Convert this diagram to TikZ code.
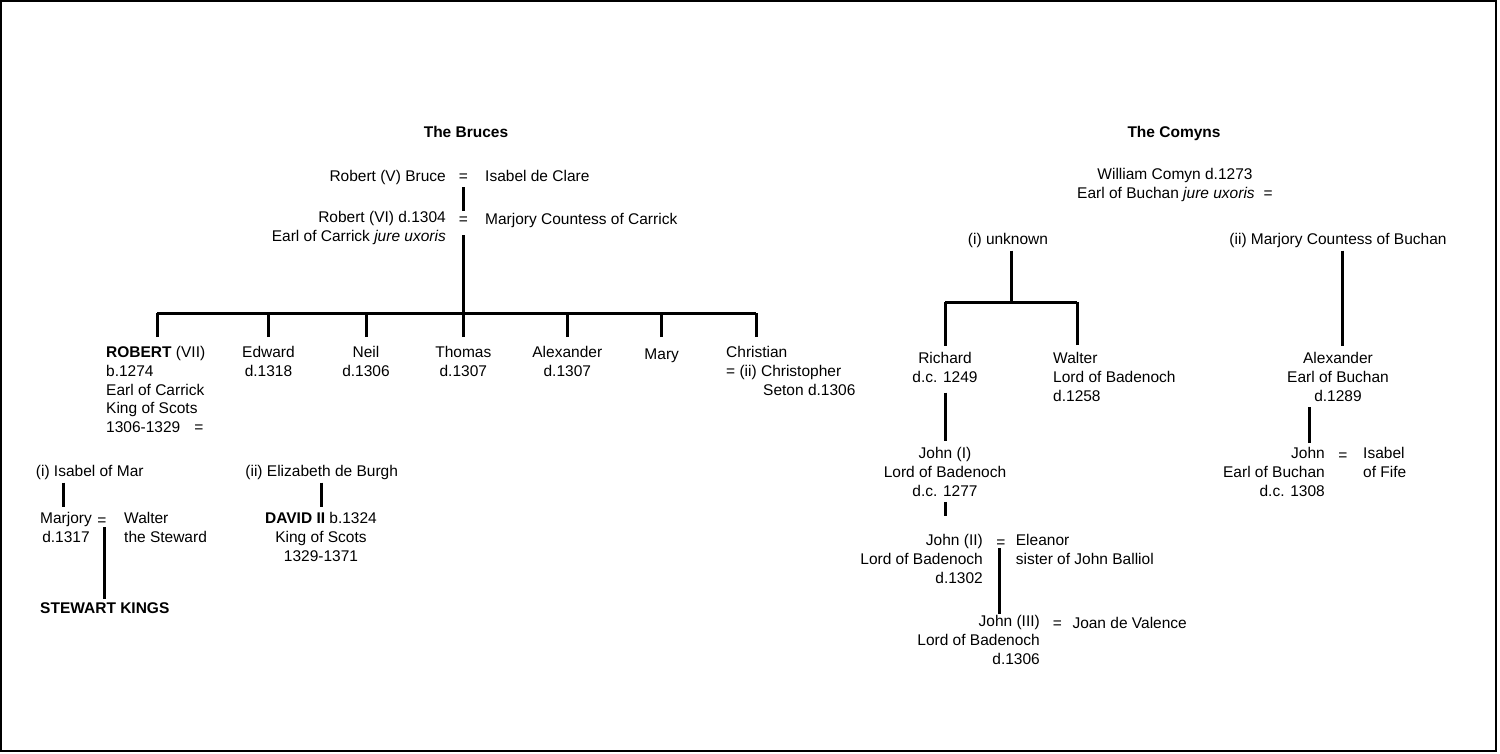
\documentclass[tikz,border=0pt]{standalone}
\usepackage{fontspec}
\setmainfont{Liberation Sans}
\tikzset{
  person/.style={font=\fontsize{15.5}{18.8}\selectfont, inner sep=0pt, execute at begin node=\strut},
  tree/.style={line width=3pt},
}
\begin{document}
\begin{tikzpicture}[x=1pt, y=-1pt]
    \useasboundingbox (0,0) rectangle (1500,753);
    % Rahmen
    \draw[line width=2pt] (1,1) rectangle (1496,751);

    % The Bruces
    \node[person, anchor=north] (bruces) at (466,124.5) {\textbf{The Bruces}};
    \node[person, anchor=north east] (rV) at (446,168) {Robert (V) Bruce};
    \node[person, anchor=north] (eqV) at (463.3,168) {=};
    \node[person, anchor=north west] (isabelC) at (485,168) {Isabel de Clare};
    \node[person, anchor=north east, align=right] (rVI) at (446,211) {Robert (VI) d.1304\\Earl of Carrick \textit{jure uxoris}};
    \node[person, anchor=north] (eqVI) at (463.3,211) {=};
    \node[person, anchor=north west] (marjoryC) at (485,211) {Marjory Countess of Carrick};

    % Kinder
    \node[person, anchor=north west, align=left] (robert) at (106,346) {\textbf{ROBERT} (VII)\\b.1274\\Earl of Carrick\\King of Scots\\1306-1329\hspace{14pt}=};
    \node[person, anchor=north, align=center] (edward) at (268.5,346) {Edward\\d.1318};
    \node[person, anchor=north, align=center] (neil) at (366,346) {Neil\\d.1306};
    \node[person, anchor=north, align=center] (thomas) at (463.3,346) {Thomas\\d.1307};
    \node[person, anchor=north, align=center] (alexB) at (567.3,346) {Alexander\\d.1307};
    \node[person, anchor=north] (mary) at (661.7,346) {Mary};
    \node[person, anchor=north west, align=left] (christian) at (726,346) {Christian\\= (ii) Christopher\\\hspace*{37pt}Seton d.1306};

    \draw[tree] (eqV.south) -- (eqVI.north);
    \coordinate (bar) at (463.3,313);
    \coordinate (robDrop) at (157,337);
    \coordinate (chrDrop) at (756,337);
    \draw[tree] ([yshift=-5pt]eqVI.south) -- (bar);
    \draw[tree] (robDrop |- bar) -- (chrDrop |- bar);
    \draw[tree] (robDrop) -- (robDrop |- bar);
    \draw[tree] (chrDrop) -- (chrDrop |- bar);
    \foreach \c in {edward,neil,thomas,alexB,mary}
        \draw[tree] ([yshift=9pt]\c.north) -- (\c.north |- bar);

    % Ehen von Robert (VII)
    \node[person, anchor=north west] (isabelM) at (35.7,463.5) {(i) Isabel of Mar};
    \node[person, anchor=north, align=center] (marjory) at (66,512) {Marjory\\d.1317};
    \node[person, anchor=north] (eqM) at (102,512) {=};
    \node[person, anchor=north west, align=left] (walter) at (124,512) {Walter\\the Steward};
    \node[person, anchor=north west] (stewart) at (40,600.5) {\textbf{STEWART KINGS}};
    \node[person, anchor=north] (elizabeth) at (321.7,463.5) {(ii) Elizabeth de Burgh};
    \node[person, anchor=north, align=center] (david) at (321,512) {\textbf{DAVID II} b.1324\\King of Scots\\1329-1371};

    \draw[tree] ([xshift=-3pt]marjory.north |- isabelM.south) -- ([xshift=-3pt,yshift=5pt]marjory.north);
    \coordinate (mw) at (104.3,527);
    \draw[tree] (mw) -- ([yshift=2pt]mw |- stewart.north);
    \draw[tree] (david.north |- elizabeth.south) -- ([yshift=5pt]david.north);

    % The Comyns
    \node[person, anchor=north] (comyns) at (1174,124.5) {\textbf{The Comyns}};
    \node[person, anchor=north, align=center] (william) at (1175,168.5) {William Comyn d.1273\\Earl of Buchan \textit{jure uxoris}\hspace{9pt}=};
    \node[person, anchor=north] (unknown) at (1008,231.5) {(i) unknown};
    \node[person, anchor=north] (marjoryB) at (1338,231.5) {(ii) Marjory Countess of Buchan};
    \node[person, anchor=north, align=center] (richard) at (945,352.5) {Richard\\d.c. 1249};
    \node[person, anchor=north west, align=left] (walterB) at (1053,352.5) {Walter\\Lord of Badenoch\\d.1258};
    \node[person, anchor=north, align=center] (alexC) at (1338,352.5) {Alexander\\Earl of Buchan\\d.1289};
    \node[person, anchor=north, align=center] (johnI) at (945,447) {John (I)\\Lord of Badenoch\\d.c. 1277};
    \node[person, anchor=north east, align=right] (johnB) at (1325,447) {John\\Earl of Buchan\\d.c. 1308};
    \node[person, anchor=north] (eqJB) at (1343,447) {=};
    \node[person, anchor=north west, align=left] (isabelF) at (1363,447) {Isabel\\of Fife};
    \node[person, anchor=north east, align=right] (johnII) at (983,534) {John (II)\\Lord of Badenoch\\d.1302};
    \node[person, anchor=north] (eqII) at (1001,534) {=};
    \node[person, anchor=north west, align=left] (eleanor) at (1015.7,534) {Eleanor\\sister of John Balliol};
    \node[person, anchor=north east, align=right] (johnIII) at (1040,615.5) {John (III)\\Lord of Badenoch\\d.1306};
    \node[person, anchor=north] (eqIII) at (1057.3,615.5) {=};
    \node[person, anchor=north west] (joan) at (1072.3,615.5) {Joan de Valence};

    \coordinate (ubar) at (1011,302);
    \coordinate (wDrop) at (1077,345);
    \draw[tree] (ubar |- unknown.south) -- (ubar);
    \draw[tree] (richard.north |- ubar) -- (wDrop |- ubar);
    \draw[tree] ([yshift=7pt]richard.north) -- (richard.north |- ubar);
    \draw[tree] (wDrop) -- (wDrop |- ubar);
    \coordinate (mDrop) at (1342,346);
    \draw[tree] (mDrop |- marjoryB.south) -- (mDrop);
    \draw[tree] ([yshift=-4pt]richard.south) -- ([yshift=6pt]johnI.north);
    \draw[tree] (johnI.south) -- ([yshift=18pt]johnI.south |- johnII.north);
    \coordinate (jDrop) at (999.3,548);
    \draw[tree] (jDrop) -- ([yshift=2pt]jDrop |- johnIII.north);
    \coordinate (aDrop) at (1309,407);
    \draw[tree] (aDrop) -- ([yshift=4pt]aDrop |- johnB.north);
\end{tikzpicture}
\end{document}
